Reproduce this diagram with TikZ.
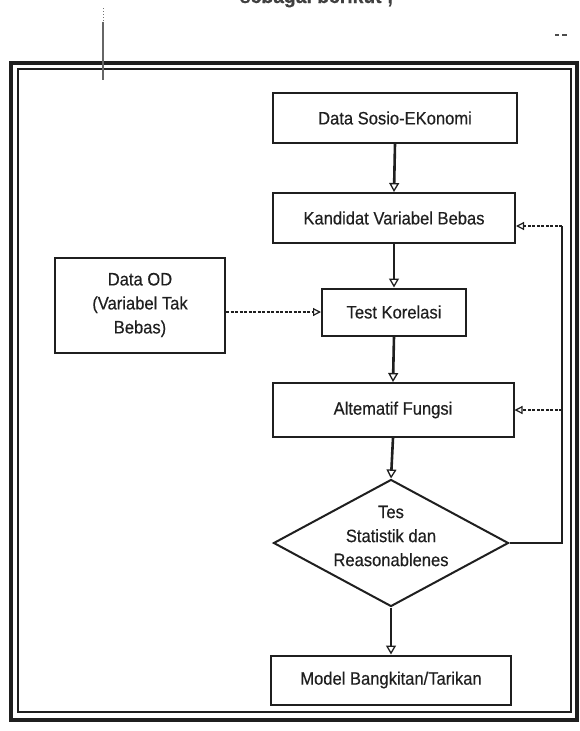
\documentclass[tikz,border=0pt]{standalone}
\usepackage{fontspec}
\setmainfont{Liberation Sans}[FakeStretch=0.92, FakeBold=0.4]
\usetikzlibrary{shapes.geometric,arrows.meta}

\begin{document}
\begin{tikzpicture}[x=1pt,y=-1pt,
  ink/.style={draw=black!88},
  txt/.style={font=\fontsize{18}{24}\selectfont, text=black!88},
  stepbox/.style={ink, txt, line width=2pt, rectangle, inner sep=0pt, align=center},
  flow/.style={ink, line width=2.6pt, -{Triangle[open,length=9pt,width=10pt,line width=1.3pt]}},
  dflow/.style={ink, line width=1.7pt, dash pattern=on 3pt off 1.5pt,
                -{Triangle[open,length=8pt,width=8pt,line width=1.2pt]}},
  rail/.style={ink, line width=2.4pt},
]
\useasboundingbox (0,0) rectangle (579,731);

% heading line above the frame, mostly outside the page
\node[anchor=base east, font=\bfseries\fontsize{21}{21}\selectfont, text=black!75]
  (intro) at (397,3) {sebagai berikut ;};

% double frame
\draw[ink, line width=3.4pt] (11,63) rectangle (577,720);
\draw[ink, line width=1.3pt] (18,69) rectangle (571,712);

% pencil marks on the page
\draw[black!55, line width=1pt, dotted] (103,8) -- (103,22);
\draw[black!60, line width=1.3pt] (103,22) -- (103,80);
\draw[black!70, line width=1.6pt] (555,35) -- (559,35) (562,35) -- (567,35);

% process boxes
\node[stepbox, minimum width=244pt, minimum height=50pt] (sosio) at (395,118) {Data Sosio-EKonomi};
\node[stepbox, minimum width=242pt, minimum height=50pt] (kand)  at (394,218) {Kandidat Variabel Bebas};
\node[stepbox, minimum width=144pt, minimum height=47pt] (kor)   at (394,312) {Test Korelasi};
\node[stepbox, minimum width=170pt, minimum height=95pt] (od)    at (140,305) {Data OD\\(Variabel Tak\\Bebas)};
\node[stepbox, minimum width=241pt, minimum height=54pt] (alt)   at (393,410) {Altematif Fungsi};
\node[ink, line width=2pt, diamond, aspect=1.85, inner sep=0pt,
      minimum width=235pt, minimum height=127pt] (tes) at (391,543) {};
\node[txt, align=center] (testxt) at ([yshift=7pt]tes.center) {Tes\\Statistik dan\\Reasonablenes};
\node[stepbox, minimum width=240pt, minimum height=49pt] (model) at (391,680) {Model Bangkitan/Tarikan};

% main flow
\draw[flow] (sosio.south) -- (kand.north);
\draw[flow] (kand.south) -- (kor.north);
\draw[flow] (kor.south) -- (alt.north);
\draw[flow] (alt.south) -- (tes.north);
\draw[flow] (tes.south) -- (model.north);

% dependent variable input
\draw[dflow] (od.east |- kor.west) -- (kor.west);

% feedback rail on the right
\coordinate (railx) at (562,0);
\coordinate (railtop) at (railx |- kand.east);
\draw[rail] (tes.east) -- (tes.east -| railx) -- ([yshift=-8pt]railtop);
\draw[dflow] ([yshift=-8pt]railtop) -- ([yshift=-8pt]kand.east);
\draw[dflow] (railx |- alt.east) -- (alt.east);
\end{tikzpicture}
\end{document}
